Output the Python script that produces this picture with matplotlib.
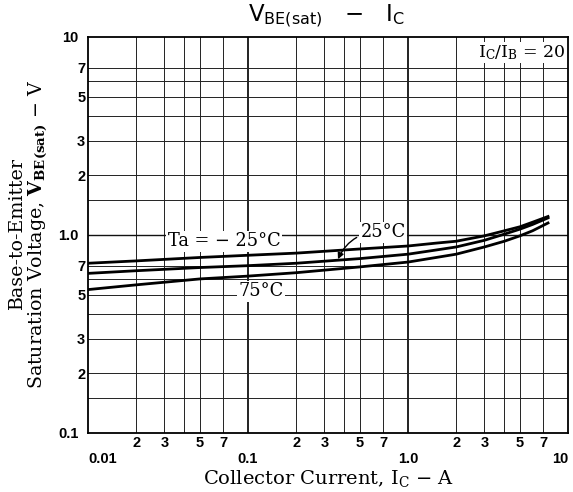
import numpy as np
import matplotlib
matplotlib.use("Agg")
import matplotlib.pyplot as plt
from matplotlib.ticker import FixedLocator, FixedFormatter

plt.rcParams['mathtext.fontset'] = 'dejavuserif'

# VBE(sat) - IC, IC/IB = 20
ic = [0.01, 0.02, 0.05, 0.1, 0.2, 0.5, 1.0, 1.5, 2.0, 3.0, 4.0, 5.0, 6.0, 7.5]
vbe_m25 = [0.72, 0.74, 0.77, 0.79, 0.81, 0.85, 0.88, 0.91, 0.93, 0.99, 1.05, 1.10, 1.16, 1.24]
vbe_25 = [0.64, 0.66, 0.685, 0.70, 0.72, 0.76, 0.80, 0.84, 0.87, 0.94, 1.01, 1.07, 1.13, 1.22]
vbe_75 = [0.53, 0.56, 0.60, 0.62, 0.645, 0.69, 0.73, 0.77, 0.80, 0.87, 0.93, 0.99, 1.05, 1.15]

x_grid = [0.02, 0.03, 0.04, 0.05, 0.07, 0.2, 0.3, 0.4, 0.5, 0.7, 2, 3, 4, 5, 7]
x_grid_lab = ['2', '3', '', '5', '7', '2', '3', '', '5', '7', '2', '3', '', '5', '7']
x_major = [0.01, 0.1, 1.0, 10]
x_major_lab = ['0.01', '0.1', '1.0', '10']
y_grid = [0.15, 0.2, 0.3, 0.4, 0.5, 0.6, 0.7, 1.5, 2, 3, 4, 5, 6, 7]
y_grid_lab = ['', '2', '3', '', '5', '', '7', '', '2', '3', '', '5', '', '7']
y_major = [0.1, 1.0, 10]
y_major_lab = ['0.1', '1.0', '10']

fig = plt.figure(figsize=(5.73, 4.92), dpi=100)
ax = fig.add_axes([88/573, 1-433/492, 480/573, 396/492])
ax.set_xscale('log')
ax.set_yscale('log')
ax.set_xlim(0.01, 10)
ax.set_ylim(0.1, 10)

# grid
for g in x_grid:
    ax.axvline(g, color='#222222', lw=0.7, zorder=1)
for g in x_major[1:-1]:
    ax.axvline(g, color='#111111', lw=1.3, zorder=1)
for g in y_grid:
    ax.axhline(g, color='#222222', lw=0.7, zorder=1)
for g in y_major[1:-1]:
    ax.axhline(g, color='#111111', lw=1.0, zorder=1)

for s in ax.spines.values():
    s.set_linewidth(1.3)

ax.xaxis.set_major_locator(FixedLocator(x_major))
ax.xaxis.set_major_formatter(FixedFormatter(x_major_lab))
ax.xaxis.set_minor_locator(FixedLocator(x_grid))
ax.xaxis.set_minor_formatter(FixedFormatter(x_grid_lab))
ax.yaxis.set_major_locator(FixedLocator(y_major))
ax.yaxis.set_major_formatter(FixedFormatter(y_major_lab))
ax.yaxis.set_minor_locator(FixedLocator(y_grid))
ax.yaxis.set_minor_formatter(FixedFormatter(y_grid_lab))
ax.tick_params(which='both', length=0)
ax.tick_params(axis='x', which='major', pad=14, labelsize=10.5)
ax.tick_params(axis='x', which='minor', pad=2, labelsize=10.5)
ax.tick_params(axis='y', which='major', pad=7, labelsize=10.5)
ax.tick_params(axis='y', which='minor', pad=2, labelsize=10.5)
for lab in ax.get_xticklabels(which='both') + ax.get_yticklabels(which='both'):
    lab.set_fontfamily('Liberation Sans')
    lab.set_fontweight('bold')
ax.get_xticklabels()[0].set_horizontalalignment('left')
ax.get_xticklabels()[-1].set_horizontalalignment('right')

# curves
ax.plot(ic, vbe_m25, color='black', lw=2.0, zorder=3)
ax.plot(ic, vbe_25, color='black', lw=2.0, zorder=3)
ax.plot(ic, vbe_75, color='black', lw=2.0, zorder=3)

serif = 'DejaVu Serif'
box = dict(facecolor='white', edgecolor='none', pad=1)
ax.text(0.071, 0.93, 'Ta = − 25°C', fontsize=12.8, family=serif,
        ha='center', va='center', bbox=box, zorder=4)
ax.text(0.12, 0.52, '75°C', fontsize=12.8, family=serif,
        ha='center', va='center', bbox=box, zorder=4)
ax.annotate('25°C', xy=(0.365, 0.755), xytext=(0.70, 1.03), fontsize=12.8,
            family=serif, ha='center', va='center', bbox=box, zorder=4,
            arrowprops=dict(arrowstyle='-|>', color='black', lw=1.0,
                            shrinkA=2, shrinkB=0, mutation_scale=9,
                            connectionstyle='arc3,rad=0.35'))
ax.text(0.994, 0.985, r'I$_\mathregular{C}$/I$_\mathregular{B}$ = 20', fontsize=12.5,
        family=serif, ha='right', va='top', transform=ax.transAxes,
        bbox=box, zorder=4)

fig.text(326/573, 1-16/492, r'V$_\mathregular{BE(sat)}$   −   I$_\mathregular{C}$',
         fontsize=16.5, family='DejaVu Sans', ha='center', va='center')
ax.set_xlabel(r'Collector Current, I$_\mathregular{C}$ − A', fontsize=14,
              family=serif, labelpad=1)
fig.text(29/573, 1-234/492,
         'Base-to-Emitter\n' + r'Saturation Voltage, $\mathbf{V_{BE(sat)}}$ − V',
         fontsize=13.7, family=serif, rotation=90, ha='center', va='center',
         multialignment='center', linespacing=1.0)

fig.savefig('out.png', dpi=100)
